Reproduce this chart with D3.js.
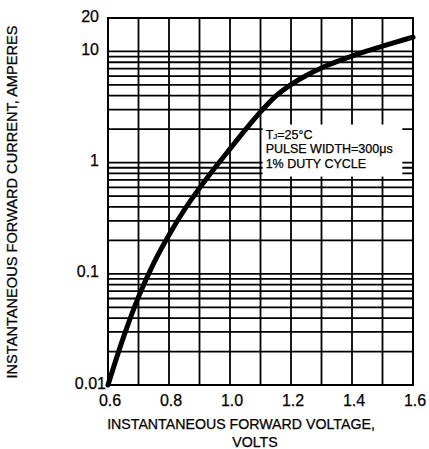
<!DOCTYPE html>
<html>
<head>
<meta charset="utf-8">
<script src="https://cdn.jsdelivr.net/npm/d3@7"></script>
<style>
  html, body { margin: 0; padding: 0; background: #fff; }
  svg { display: block; font-family: "Liberation Sans", Arial, Helvetica, sans-serif; }
</style>
</head>
<body>
<div id="chart"></div>
<script>
// forward voltage (V) vs instantaneous forward current (A)
const volts = [0.6, 0.65, 0.7, 0.75, 0.8, 0.85, 0.9, 0.95, 1.0, 1.05, 1.1,
               1.15, 1.2, 1.25, 1.3, 1.35, 1.4, 1.45, 1.5, 1.55, 1.6];
const amps = [0.01, 0.0265, 0.062, 0.125, 0.224, 0.375, 0.59, 0.895, 1.33, 1.97, 2.86,
              3.97, 5.04, 6.08, 7.1, 8.09, 9.08, 10.1, 11.15, 12.27, 13.46];

const x_ticks = [0.6, 0.8, 1.0, 1.2, 1.4, 1.6];
const x_grid = [0.6, 0.7, 0.8, 0.9, 1.0, 1.1, 1.2, 1.3, 1.4, 1.5, 1.6];
const y_ticks = [0.01, 0.1, 1, 10, 20];
const y_tick_labels = ["0.01", "0.1", "1", "10", "20"];
const y_grid = [0.01, 0.02, 0.03, 0.04, 0.05, 0.06, 0.07, 0.08, 0.09,
                0.1, 0.2, 0.3, 0.4, 0.5, 0.6, 0.7, 0.8, 0.9,
                1, 2, 3, 4, 5, 6, 7, 8, 9, 10, 20];

const note_lines = ["PULSE WIDTH=300\u03bcs", "1% DUTY CYCLE"];
// annotation box corners in data units
const note_box = {v0: 1.107, v1: 1.565, i0: 2.2, i1: 0.75};

const width = 429;
const height = 449;
const margin = {top: 18, right: 16, bottom: 64, left: 108};

const x = d3.scaleLinear()
    .domain([0.6, 1.6])
    .range([margin.left, width - margin.right]);

const y = d3.scaleLog()
    .domain([0.01, 20])
    .range([height - margin.bottom, margin.top]);

const svg = d3.create("svg")
    .attr("width", width)
    .attr("height", height)
    .attr("viewBox", [0, 0, width, height]);

svg.append("rect")
    .attr("width", width)
    .attr("height", height)
    .attr("fill", "#fff");

// grid
const grid = svg.append("g")
    .attr("stroke", "#000")
    .attr("stroke-width", 1.8);

grid.selectAll(".hline")
    .data(y_grid)
    .join("line")
    .attr("class", "hline")
    .attr("x1", x(0.6))
    .attr("x2", x(1.6))
    .attr("y1", d => y(d))
    .attr("y2", d => y(d));

grid.selectAll(".vline")
    .data(x_grid)
    .join("line")
    .attr("class", "vline")
    .attr("x1", d => x(d))
    .attr("x2", d => x(d))
    .attr("y1", y(0.01))
    .attr("y2", y(20));

// white box behind the test conditions
svg.append("rect")
    .attr("x", x(note_box.v0))
    .attr("y", y(note_box.i0))
    .attr("width", x(note_box.v1) - x(note_box.v0))
    .attr("height", y(note_box.i1) - y(note_box.i0))
    .attr("fill", "#fff");

// frame
svg.append("rect")
    .attr("x", x(0.6))
    .attr("y", y(20))
    .attr("width", x(1.6) - x(0.6))
    .attr("height", y(0.01) - y(20))
    .attr("fill", "none")
    .attr("stroke", "#000")
    .attr("stroke-width", 2);

// curve
const line = d3.line()
    .x((d, i) => x(volts[i]))
    .y(d => y(d))
    .curve(d3.curveCatmullRom.alpha(0.5));

svg.append("path")
    .datum(amps)
    .attr("fill", "none")
    .attr("stroke", "#000")
    .attr("stroke-width", 5)
    .attr("stroke-linecap", "round")
    .attr("d", line);

// tick labels
const labels = svg.append("g")
    .attr("fill", "#000")
    .attr("stroke", "#000")
    .attr("stroke-width", 0.25);

labels.append("g")
    .selectAll("text")
    .data(x_ticks)
    .join("text")
    .attr("x", d => x(d) + 2)
    .attr("y", y(0.01) + 21)
    .attr("text-anchor", "middle")
    .attr("font-size", 16)
    .text(d => d3.format(".1f")(d));

labels.append("g")
    .selectAll("text")
    .data(y_ticks)
    .join("text")
    .attr("x", x(0.6) - 9)
    .attr("dx", d => d === 0.01 ? 7 : 0)
    .attr("y", d => y(d) - 2)
    .attr("dy", "0.35em")
    .attr("text-anchor", "end")
    .attr("font-size", 16)
    .text((d, i) => y_tick_labels[i]);

// axis titles
labels.append("text")
    .attr("x", 241)
    .attr("y", 429)
    .attr("text-anchor", "middle")
    .attr("font-size", 14.2)
    .text("INSTANTANEOUS FORWARD VOLTAGE,");

labels.append("text")
    .attr("x", 255)
    .attr("y", 447)
    .attr("text-anchor", "middle")
    .attr("font-size", 14.2)
    .text("VOLTS");

labels.append("text")
    .attr("transform", "translate(17,202) rotate(-90)")
    .attr("text-anchor", "middle")
    .attr("font-size", 14.6)
    .text("INSTANTANEOUS FORWARD CURRENT, AMPERES");

// test conditions
const note = labels.append("text")
    .attr("font-size", 12.5)
    .attr("x", x(note_box.v0) + 3);

const first = note.append("tspan")
    .attr("x", x(note_box.v0) + 3)
    .attr("y", y(note_box.i0) + 14);
first.append("tspan").text("T");
first.append("tspan").attr("font-size", 8).text("J");
first.append("tspan").text("=25\u00b0C");

note.selectAll(".ln")
    .data(note_lines)
    .join("tspan")
    .attr("class", "ln")
    .attr("x", x(note_box.v0) + 3)
    .attr("y", (d, i) => y(note_box.i0) + 28.5 + i * 14.5)
    .text(d => d);

document.getElementById("chart").append(svg.node());
</script>
</body>
</html>
